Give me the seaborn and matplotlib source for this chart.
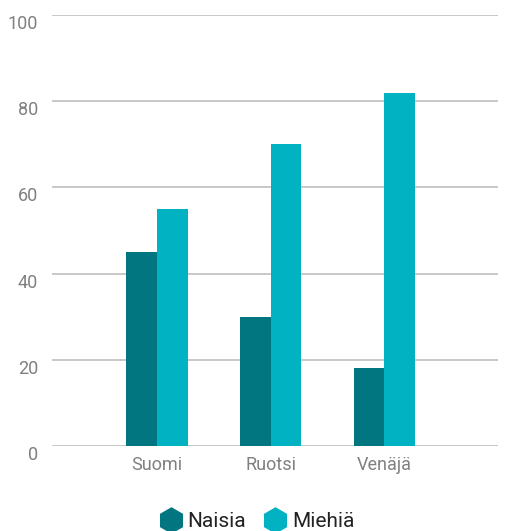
import matplotlib
matplotlib.use("Agg")
import matplotlib.pyplot as plt
import matplotlib.transforms as mtransforms
from matplotlib.lines import Line2D
import seaborn as sns
import pandas as pd

categories = ["Suomi", "Ruotsi", "Venäjä"]
naisia = [45, 30, 18]
miehia = [55, 70, 82]
series_names = ["Naisia", "Miehiä"]
colors = ["#017681", "#00b2c2"]
yticks = [0, 20, 40, 60, 80, 100]

df = pd.DataFrame({
    "maa": categories * 2,
    "arvo": naisia + miehia,
    "sarja": [series_names[0]] * 3 + [series_names[1]] * 3,
})

sns.set_theme(style="white")
plt.rcParams["font.family"] = ["Roboto", "DejaVu Sans"]

fig = plt.figure(figsize=(5.13, 5.31), dpi=100)
ax = fig.add_axes([52 / 513, 85 / 531, 446 / 513, 431 / 531])

sns.barplot(data=df, x="maa", y="arvo", hue="sarja", order=categories,
            hue_order=series_names, palette=colors, width=0.54,
            saturation=1, ax=ax, legend=False, linewidth=0, edgecolor="none")

ax.set_ylim(0, 100)
ax.set_xlim(-0.925, 3.0)
ax.set_yticks(yticks)
ax.yaxis.grid(True, color="#c8c8c8", linewidth=1.4)
ax.set_axisbelow(True)
for s in ax.spines.values():
    s.set_visible(False)
ax.set_xlabel("")
ax.set_ylabel("")
ax.tick_params(axis="both", length=0, labelsize=13, colors="#808080")
ax.tick_params(axis="y", pad=10)
ax.tick_params(axis="x", pad=7)

offset = mtransforms.ScaledTranslation(0, -7 / 100, fig.dpi_scale_trans)
for lbl in ax.get_yticklabels():
    lbl.set_transform(lbl.get_transform() + offset)

handles = [Line2D([0], [0], marker="h", linestyle="", markersize=18,
                  markerfacecolor=c, markeredgecolor=c) for c in colors]
fig.legend(handles, series_names, loc="lower center", ncol=2, frameon=False,
           fontsize=15, bbox_to_anchor=(0.5, -0.035), handletextpad=0.2,
           columnspacing=0.8, handlelength=1.2, labelcolor="#222222")

fig.savefig("out.png", dpi=100)
